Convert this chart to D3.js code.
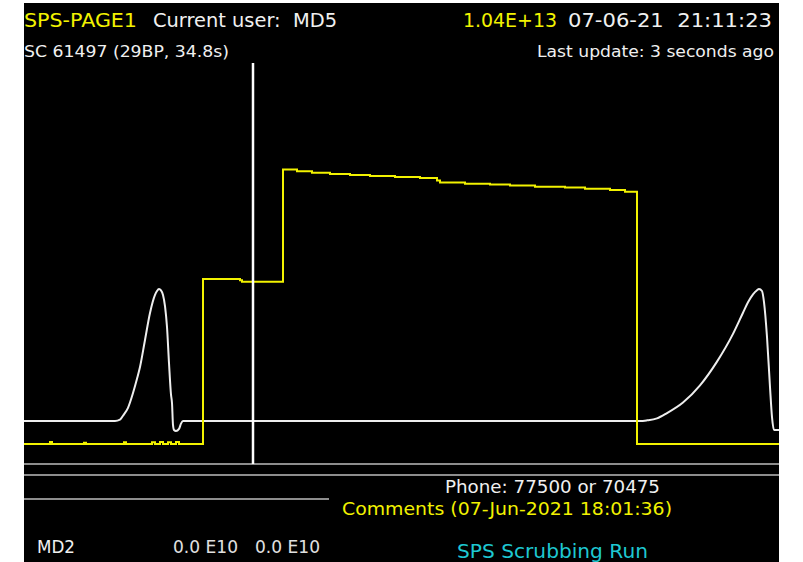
<!DOCTYPE html>
<html>
<head>
<meta charset="utf-8">
<script src="https://cdn.jsdelivr.net/npm/d3@7/dist/d3.min.js"></script>
<style>
  body { margin: 0; background: #fff; }
  text { font-family: "DejaVu Sans", sans-serif; }
</style>
</head>
<body>
<div id="chart"></div>
<script>
// cycle time (10 ms units) and intensity (E13 protons) of the yellow trace, held until the next sample
var intensityTime  = [0, 26, 28, 60, 62, 100, 102, 128, 131, 136, 139, 144, 147, 152, 155, 179, 216, 218, 259, 273, 288, 306, 326, 346, 371, 396, 413, 416, 441, 466, 486, 511, 541, 561, 586, 601, 613, 755];
var intensityValue = [0, 0.007, 0, 0.005, 0, 0.006, 0, 0.006, 0, 0.007, 0, 0.006, 0, 0.007, 0, 0.602, 0.598, 0.592, 1.002, 0.995, 0.99, 0.985, 0.982, 0.978, 0.974, 0.971, 0.962, 0.954, 0.95, 0.947, 0.943, 0.939, 0.936, 0.932, 0.927, 0.921, 0, 0];
// white trace (normalised)
var profileTime  = [0, 91, 96, 99, 104, 109, 113, 116, 121, 126, 131, 133, 135, 137, 139, 141, 143, 145, 147, 148, 149, 150, 152, 155, 157, 159, 616, 623, 633, 643, 659, 676, 693, 709, 719, 724, 729, 733, 735, 738, 740, 743, 746, 748, 750, 755];
var profileValue = [0, 0, 0.01, 0.04, 0.1, 0.212, 0.32, 0.409, 0.614, 0.818, 0.955, 0.985, 1.0, 0.99, 0.955, 0.87, 0.712, 0.439, 0.2, 0.136, -0.03, -0.068, -0.076, -0.06, -0.02, 0, 0, 0.005, 0.02, 0.06, 0.14, 0.27, 0.45, 0.66, 0.82, 0.9, 0.96, 0.99, 1.0, 0.985, 0.9, 0.636, 0.258, 0.03, -0.068, -0.068];
var cursorTime = 229;

var width = 803, height = 562;
var svg = d3.select("#chart").append("svg")
    .attr("width", width)
    .attr("height", height);

svg.append("rect").attr("x", 24).attr("y", 3).attr("width", 755).attr("height", 559).attr("fill", "#000");

var x = d3.scaleLinear().domain([0, 755]).range([24, 779]);
var yI = d3.scaleLinear().domain([0, 1]).range([444, 170]);
var yP = d3.scaleLinear().domain([0, 1]).range([421, 289]);

// separators
svg.append("line").attr("x1", 24).attr("x2", 779).attr("y1", 464).attr("y2", 464).attr("stroke", "#bdbdbd").attr("stroke-width", 1.5);
svg.append("line").attr("x1", 24).attr("x2", 779).attr("y1", 475).attr("y2", 475).attr("stroke", "#bdbdbd").attr("stroke-width", 1.5);
svg.append("line").attr("x1", 24).attr("x2", 329).attr("y1", 499).attr("y2", 499).attr("stroke", "#bdbdbd").attr("stroke-width", 1.5);

var profile = profileTime.map(function(t, i) { return [t, profileValue[i]]; });
var intensity = intensityTime.map(function(t, i) { return [t, intensityValue[i]]; });

svg.append("path")
    .datum(profile)
    .attr("fill", "none")
    .attr("stroke", "#eeeeee")
    .attr("stroke-width", 2)
    .attr("d", d3.line().x(function(d) { return x(d[0]); }).y(function(d) { return yP(d[1]); }).curve(d3.curveMonotoneX));

svg.append("path")
    .datum(intensity)
    .attr("fill", "none")
    .attr("stroke", "#f2f200")
    .attr("stroke-width", 2)
    .attr("d", d3.line().x(function(d) { return x(d[0]); }).y(function(d) { return yI(d[1]); }).curve(d3.curveStepAfter));

svg.append("line")
    .attr("x1", x(cursorTime)).attr("x2", x(cursorTime))
    .attr("y1", 63).attr("y2", 464)
    .attr("stroke", "#ffffff").attr("stroke-width", 2.5);

// texts
var labels = [
  {t: "SPS-PAGE1", x: 24, y: 27, c: "#f2f200", s: 19, w: 113},
  {t: "Current user:  MD5", x: 153, y: 27, c: "#f0f0f0", s: 19, w: 184},
  {t: "1.04E+13", x: 463, y: 27, c: "#f2f200", s: 19, w: 94},
  {t: "07-06-21  21:11:23", x: 568, y: 27, c: "#f0f0f0", s: 19, w: 204},
  {t: "SC 61497 (29BP, 34.8s)", x: 24, y: 57, c: "#f0f0f0", s: 16, w: 205},
  {t: "Last update: 3 seconds ago", x: 537, y: 57, c: "#f0f0f0", s: 16, w: 237},
  {t: "Phone: 77500 or 70475", x: 445, y: 493, c: "#f0f0f0", s: 17, w: 215},
  {t: "Comments (07-Jun-2021 18:01:36)", x: 342, y: 515, c: "#f2f200", s: 17, w: 330},
  {t: "MD2", x: 37, y: 553, c: "#f0f0f0", s: 17, w: 38},
  {t: "0.0 E10", x: 173, y: 553, c: "#e0e0e0", s: 17, w: 65},
  {t: "0.0 E10", x: 255, y: 553, c: "#e0e0e0", s: 17, w: 65},
  {t: "SPS Scrubbing Run", x: 457, y: 558, c: "#1ec8d2", s: 19, w: 191}
];

svg.selectAll(".lbl")
    .data(labels)
  .enter().append("text")
    .attr("class", "lbl")
    .attr("x", function(d) { return d.x; })
    .attr("y", function(d) { return d.y; })
    .attr("fill", function(d) { return d.c; })
    .attr("font-size", function(d) { return d.s + "px"; })
    .attr("textLength", function(d) { return d.w; })
    .attr("lengthAdjust", "spacingAndGlyphs")
    .style("white-space", "pre")
    .text(function(d) { return d.t; });
</script>
</body>
</html>
